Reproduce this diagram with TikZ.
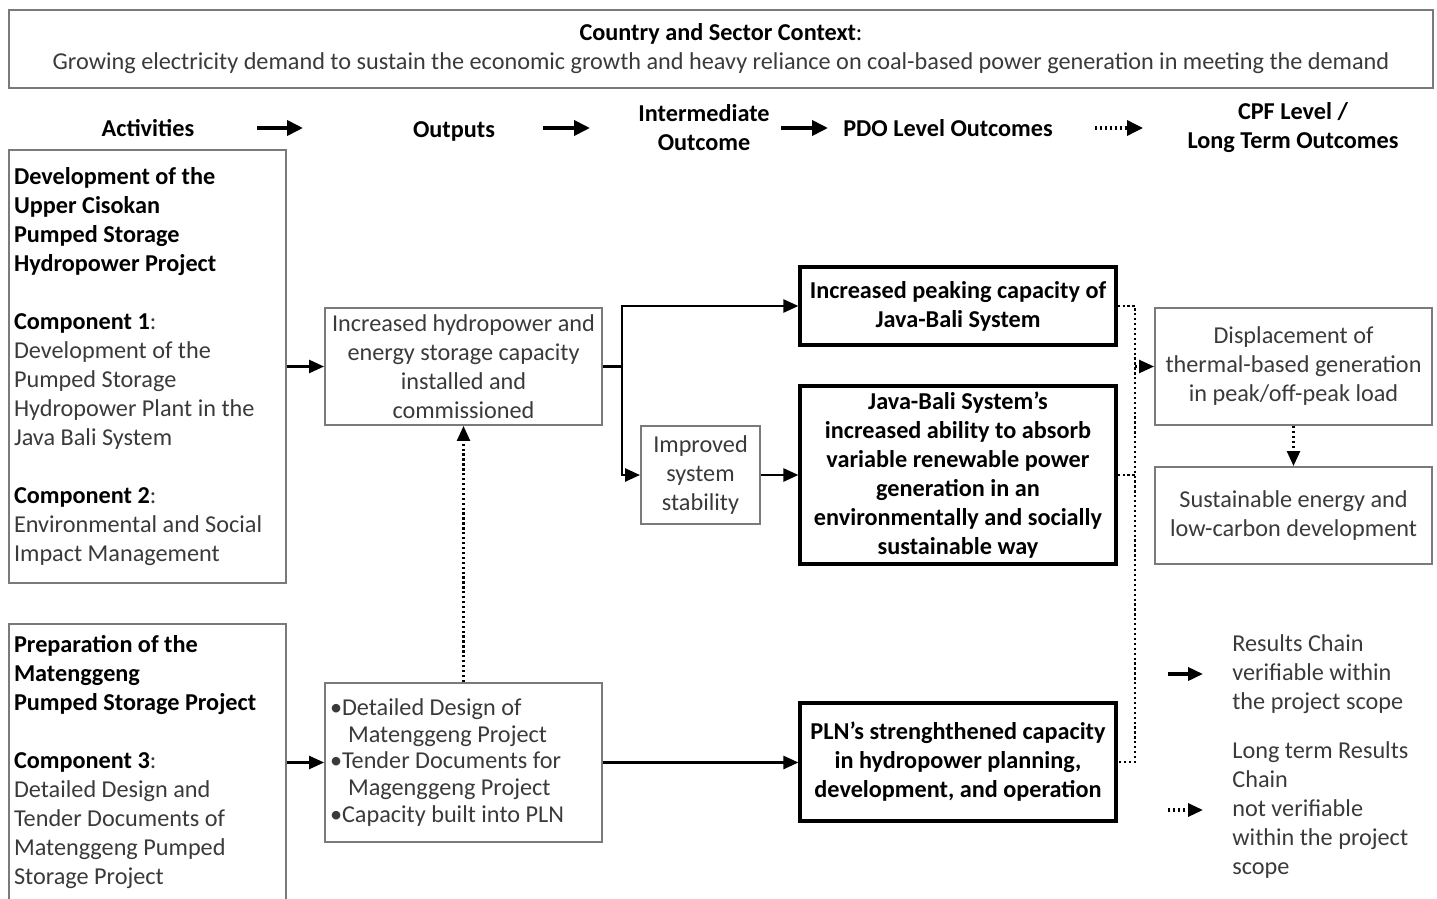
\documentclass[tikz,border=0pt]{standalone}
\usepackage{fontspec}
\setmainfont{Carlito}
\usepackage{xcolor}
\usetikzlibrary{positioning,arrows.meta}

\definecolor{txtgray}{HTML}{3A3A3A}
\definecolor{boxgray}{HTML}{7A7A7A}
\newcommand{\boxfont}{\fontsize{13.8}{16.5}\selectfont}
\newcommand{\listfont}{\fontsize{13.8}{15.2}\selectfont}

\begin{document}
\begin{tikzpicture}[x=0.02cm, y=-0.02cm, font=\boxfont, text=txtgray,
  graybox/.style={draw=boxgray, line width=1.1pt, align=center, inner sep=0pt},
  pdobox/.style={draw=black, line width=1.8pt, text=black, font=\boxfont\bfseries,
    align=center, inner sep=0pt, minimum width=316*0.02cm},
  head/.style={text=black, font=\boxfont\bfseries, align=center},
  tip/.style={-{Triangle[length=0.3cm, width=0.26cm]}},
  link/.style={draw=black, line width=1.4pt, tip},
  dots/.style={draw=black, line width=1.4pt, dash pattern=on 1.3pt off 1.5pt}]
  \useasboundingbox (0,0) rectangle (1437,899);

  % context box on top
  \node[draw=boxgray, line width=1.6pt, minimum width=1424*0.02cm, minimum height=78*0.02cm,
    inner sep=0pt, align=center] (context) at (721,49)
    {\textcolor{black}{\textbf{Country and Sector Context}:}\\
     Growing electricity demand to sustain the economic growth and heavy reliance on coal-based power generation in meeting the demand};

  % column headings
  \node[head] (hact) at (148,128) {Activities};
  \node[head] (hout) at (454,131) {Outputs};
  \node[head] (hint) at (704,128) {Intermediate\\Outcome};
  \node[head] (hpdo) at (948,128) {PDO Level Outcomes};
  \node[head] (hcpf) at (1293,128) {CPF Level /\\Long Term Outcomes};
  % heading arrows
  \foreach \xa/\xb/\nm in {257/303/a, 543/590/b, 781/828/c} {
    \coordinate (h\nm1) at (\xa,128);
    \coordinate (h\nm2) at (\xb,128);
    \draw[link, line width=2.2pt, -{Triangle[length=0.32cm, width=0.3cm]}] (h\nm1) -- (h\nm2);
  }
  \coordinate (hd1) at (1095,128);
  \coordinate (hd2) at (1143,128);
  \draw[dots, line width=2pt, -{Triangle[length=0.32cm, width=0.3cm]}] (hd1) -- (hd2);

  % activities
  \node[graybox, align=flush left, text width=5.34cm, inner xsep=0.1cm, minimum height=433*0.02cm]
    (act1) at (147.5,366.5)
    {{\bfseries\color{black}Development of the\\Upper Cisokan\\Pumped Storage\\Hydropower Project}\\[16.5pt]
     \textcolor{black}{\textbf{Component 1}}:\\Development of the\\Pumped Storage\\Hydropower Plant in the\\Java Bali System\\[16.5pt]
     \textcolor{black}{\textbf{Component 2}}:\\Environmental and Social\\Impact Management};
  \node[graybox, align=flush left, text width=5.34cm, inner xsep=0.1cm, minimum height=276*0.02cm]
    (act2) at (147.5,762)
    {{\bfseries\color{black}Preparation of the\\Matenggeng\\Pumped Storage Project}\\[16.5pt]
     \textcolor{black}{\textbf{Component 3}}:\\Detailed Design and\\Tender Documents of\\Matenggeng Pumped\\Storage Project};

  % outputs
  \node[graybox, minimum width=277*0.02cm, minimum height=117*0.02cm] (out1) at (463.5,366.5)
    {Increased hydropower and\\energy storage capacity\\installed and\\commissioned};
  \node[graybox, align=flush left, text width=5.34cm, inner xsep=0.1cm, minimum height=159*0.02cm,
    font=\listfont] (out2) at (463.5,762.5)
    {\makebox[0.24cm][l]{\textbullet}Detailed Design of\\
     \hspace*{0.36cm}Matenggeng Project\\
     \makebox[0.24cm][l]{\textbullet}Tender Documents for\\
     \hspace*{0.36cm}Magenggeng Project\\
     \makebox[0.24cm][l]{\textbullet}Capacity built into PLN};

  % intermediate outcome
  \node[graybox, minimum width=119*0.02cm, minimum height=98*0.02cm] (imp) at (700.5,475)
    {Improved\\system\\stability};

  % PDO level outcomes
  \node[pdobox, minimum height=78*0.02cm] (pdo1) at (958,306)
    {Increased peaking capacity of\\Java-Bali System};
  \node[pdobox, minimum height=178*0.02cm] (pdo2) at (958,475)
    {Java-Bali System’s\\increased ability to absorb\\variable renewable power\\generation in an\\environmentally and socially\\sustainable way};
  \node[pdobox, minimum height=118*0.02cm] (pdo3) at (958,762)
    {PLN’s strenghthened capacity\\in hydropower planning,\\development, and operation};

  % CPF level outcomes
  \node[graybox, minimum width=277*0.02cm, minimum height=117*0.02cm] (cpf1) at (1293.5,366.5)
    {Displacement of\\thermal-based generation\\in peak/off-peak load};
  \node[graybox, minimum width=277*0.02cm, minimum height=97*0.02cm] (cpf2) at (1293.5,515.5)
    {Sustainable energy and\\low-carbon development};

  % solid links
  \coordinate (split) at (622,366.5);
  \draw[link] (act1) -- (out1);
  \draw[link] (act2.east |- out2.west) -- (out2.west);
  \draw[link] (out1.east) -- (split) |- (pdo1.west);
  \draw[link] (split) |- (imp.west);
  \draw[link] (imp) -- (pdo2);
  \draw[link] (out2.east) -- (out2.east -| pdo3.west);

  % dotted links
  \coordinate (bus) at (1135,500);
  \draw[dots, tip] (out2) -- (out1);
  \draw[dots] (pdo1.east) -| (bus) |- (pdo3.east);
  \draw[dots] (pdo2.east) -- (pdo2.east -| bus);
  \draw[dots, tip] (bus |- cpf1.west) -- (cpf1.west);
  \draw[dots, tip] (cpf1) -- (cpf2);

  % legend
  \node[anchor=west, align=left, inner sep=0pt] (leg1) at (1232,674)
    {Results Chain\\verifiable within\\the project scope};
  \node[anchor=west, align=left, inner sep=0pt] (leg2) at (1232,810)
    {Long term Results\\Chain\\not verifiable\\within the project\\scope};
  \coordinate (l1) at (1168,674);
  \coordinate (l2) at (1168,810);
  \draw[link, line width=2pt, shorten >=0.58cm] (l1) -- (leg1.west);
  \draw[dots, line width=1.8pt, tip, shorten >=0.58cm] (l2) -- (leg2.west);
\end{tikzpicture}
\end{document}
